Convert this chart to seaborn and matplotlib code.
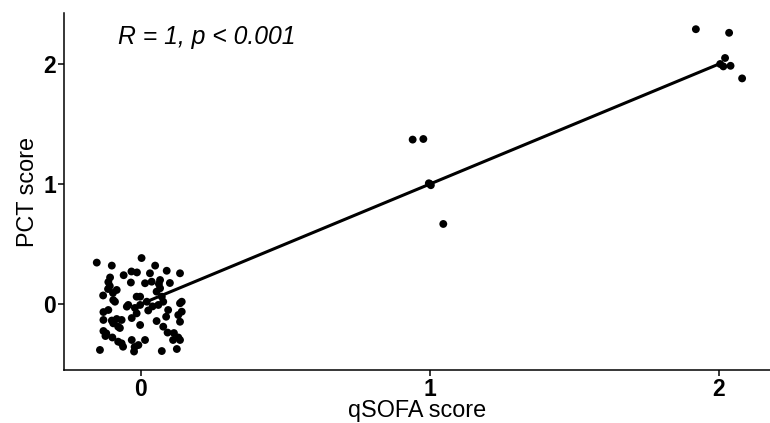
import matplotlib
matplotlib.use("Agg")
import matplotlib.pyplot as plt
import seaborn as sns
import pandas as pd

# qSOFA = 0 group (jittered display positions)
x0 = [-0.153, -0.101, 0.002, -0.033, -0.014, 0.031, 0.049, 0.089, 0.135, -0.107,
      -0.035, -0.113, -0.114, 0.014, 0.037, 0.062, 0.054, 0.100, -0.131, -0.096,
      -0.084, -0.015, -0.003, -0.049, -0.021, 0.025, 0.060, 0.094, 0.141, -0.130,
      -0.113, -0.130, -0.101, -0.067, -0.073, -0.032, -0.003, 0.054, 0.087, 0.141,
      0.135, -0.130, -0.123, -0.099, -0.079, -0.032, 0.014, 0.077, 0.092, 0.114,
      0.129, 0.111, -0.142, -0.062, -0.022, -0.024, 0.072, 0.124, -0.044, -0.015,
      -0.079, -0.096, -0.084, -0.003, 0.020, 0.077, 0.135, 0.129, 0.135, -0.009,
      0.066, 0.066, 0.072, -0.090, -0.097, -0.067, -0.120, -0.108, 0.040, -0.060]
y0 = [0.345, 0.320, 0.383, 0.271, 0.263, 0.256, 0.320, 0.277, 0.256, 0.221,
      0.179, 0.183, 0.125, 0.173, 0.186, 0.167, 0.103, 0.175, 0.071, 0.033,
      0.117, 0.061, 0.061, -0.022, -0.033, -0.054, -0.008, -0.050, 0.019, -0.067,
      -0.050, -0.133, -0.138, -0.133, -0.200, -0.117, -0.175, -0.142, -0.106, -0.064,
      -0.148, -0.225, -0.267, -0.279, -0.314, -0.300, -0.300, -0.189, -0.238, -0.242,
      -0.279, -0.300, -0.383, -0.356, -0.358, -0.396, -0.392, -0.375, -0.008, -0.078,
      -0.189, -0.161, -0.125, -0.008, 0.019, 0.019, 0.006, -0.092, -0.300, -0.342,
      0.200, 0.131, 0.061, 0.019, 0.092, -0.328, -0.245, 0.150, -0.020, 0.240]
# qSOFA = 1 group
x1 = [0.940, 0.977, 1.000, 1.003, 0.996, 1.046]
y1 = [1.370, 1.375, 1.000, 0.990, 1.006, 0.667]
# qSOFA = 2 group
x2 = [1.920, 2.035, 2.021, 2.004, 2.015, 2.040, 2.080]
y2 = [2.290, 2.260, 2.050, 2.000, 1.980, 1.985, 1.880]

# un-jittered scores used for the regression line
score_true = [0] * len(x0) + [1] * len(x1) + [2] * len(x2)

xticks = [0, 1, 2]
yticks = [0, 1, 2]
annotation = "R = 1, p < 0.001"

df = pd.DataFrame({"x": x0 + x1 + x2, "y": y0 + y1 + y2})
line_df = pd.DataFrame({"q": score_true, "p": score_true})

sns.set_theme(style="ticks")
plt.rcParams["font.family"] = ["Liberation Sans", "DejaVu Sans"]

fig = plt.figure(figsize=(7.7, 4.23), dpi=100)
ax = fig.add_axes([64 / 770, 53 / 423, 1 - 64 / 770, (370 - 13) / 423])

sns.scatterplot(data=df, x="x", y="y", ax=ax, color="black", s=32,
                edgecolor="none", linewidth=0, zorder=3)
sns.regplot(data=line_df, x="q", y="p", ax=ax, scatter=False, ci=None,
            color="black", line_kws={"linewidth": 2.2, "zorder": 2})

ax.set_xlim(-0.2664, 2.1765)
ax.set_ylim(-0.55, 2.425)
ax.set_xticks(xticks)
ax.set_yticks(yticks)
ax.set_xticklabels([str(t) for t in xticks], fontsize=16.5, fontweight="bold")
ax.set_yticklabels([str(t) for t in yticks], fontsize=16.5, fontweight="bold")
ax.tick_params(axis="both", length=4.3, width=1.1, color="black", pad=1.5,
               labelcolor="black")
for s in ["left", "bottom"]:
    ax.spines[s].set_linewidth(1.1)
    ax.spines[s].set_color("black")
for s in ["top", "right"]:
    ax.spines[s].set_visible(False)

ax.set_xlabel("qSOFA score", fontsize=16.8, color="black", labelpad=-1.5)
ax.set_ylabel("PCT score", fontsize=16.8, color="black", labelpad=3)

ax.text(-0.08, 2.225, annotation, fontsize=17.8, style="italic",
        ha="left", va="center", color="black")

fig.savefig("out.png", dpi=100)
